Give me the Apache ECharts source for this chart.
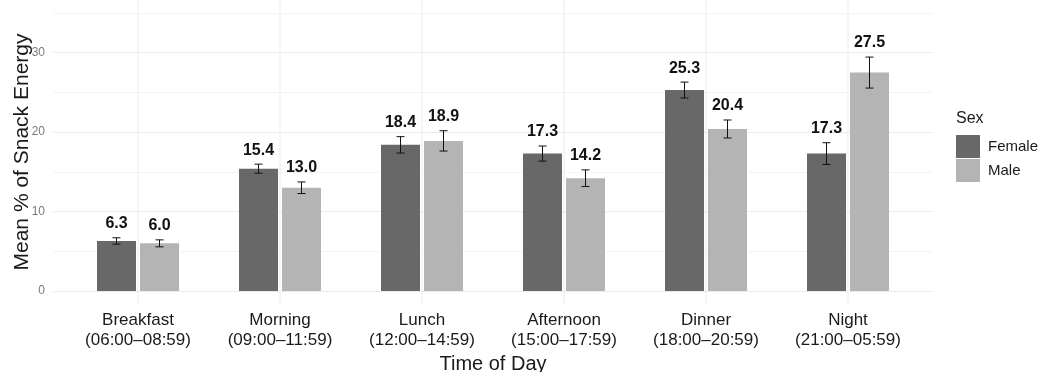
<!DOCTYPE html>
<html>
<head>
<meta charset="utf-8">
<script src="https://cdn.jsdelivr.net/npm/echarts@6/dist/echarts.min.js"></script>
<style>
  html, body { margin: 0; padding: 0; background: #ffffff; }
  #chart { width: 1042px; height: 372px; }
</style>
</head>
<body>
<div id="chart"></div>
<script>
// Snack energy share by time of day, split by sex (mean ± SE)
const categories = [
  'Breakfast\n(06:00–08:59)',
  'Morning\n(09:00–11:59)',
  'Lunch\n(12:00–14:59)',
  'Afternoon\n(15:00–17:59)',
  'Dinner\n(18:00–20:59)',
  'Night\n(21:00–05:59)'
];
const femaleMean = [6.3, 15.4, 18.4, 17.3, 25.3, 17.3];
const maleMean   = [6.0, 13.0, 18.9, 14.2, 20.4, 27.5];
const femaleSE   = [0.40, 0.57, 1.03, 0.95, 1.00, 1.37];
const maleSE     = [0.44, 0.73, 1.28, 1.05, 1.13, 1.95];
const yTickLabels = [0, 10, 20, 30];

const FONT = '"Liberation Sans", Arial, sans-serif';
const BAR_W = 39;
const BAR_GAP_PX = 4;
const DODGE = (BAR_W + BAR_GAP_PX) / 2;
const Y_MIN = 0, Y_MAX = 35;
const PANEL_LO = -1.75, PANEL_HI = 36.75; // padded panel range for vertical grid lines

const chart = echarts.init(document.getElementById('chart'), null, { renderer: 'canvas' });

function errorBarRenderer(sign) {
  return function (params, api) {
    const i = api.value(0), m = api.value(1), se = api.value(2);
    const top = api.coord([i, m + se]);
    const bot = api.coord([i, m - se]);
    const x = top[0] + sign * DODGE;
    const cap = 4;
    const stroke = { stroke: '#111', lineWidth: 1 };
    return {
      type: 'group',
      children: [
        { type: 'line', shape: { x1: x, y1: top[1], x2: x, y2: bot[1] }, style: stroke },
        { type: 'line', shape: { x1: x - cap, y1: top[1], x2: x + cap, y2: top[1] }, style: stroke },
        { type: 'line', shape: { x1: x - cap, y1: bot[1], x2: x + cap, y2: bot[1] }, style: stroke },
        {
          type: 'text', x: x, y: top[1] - 14,
          style: {
            text: m.toFixed(1), fill: '#111',
            font: 'bold 16px ' + FONT, align: 'center', verticalAlign: 'middle'
          }
        }
      ]
    };
  };
}

function vGridRenderer(params, api) {
  const i = api.value(0);
  const a = api.coord([i, PANEL_LO]);
  const b = api.coord([i, PANEL_HI]);
  return {
    type: 'line',
    shape: { x1: a[0], y1: a[1], x2: b[0], y2: b[1] },
    style: { stroke: '#ebebeb', lineWidth: 1 }
  };
}

const option = {
  backgroundColor: '#ffffff',
  animation: false,
  textStyle: { fontFamily: FONT },
  title: {
    text: 'Sex', left: 956, top: 111, padding: 0,
    textStyle: { fontSize: 16, fontWeight: 'normal', color: '#1a1a1a', fontFamily: FONT }
  },
  legend: {
    data: ['Female', 'Male'],
    orient: 'vertical', left: 956, top: 135, padding: 0,
    icon: 'rect', itemWidth: 24, itemHeight: 23, itemGap: 1,
    textStyle: { fontSize: 15, color: '#1a1a1a', fontFamily: FONT, padding: [0, 0, 0, 3] },
    selectedMode: false
  },
  grid: [
    // bars (category bands of equal width)
    { left: 67, right: 123, top: 13, bottom: 81, containLabel: false, outerBoundsMode: 'none' },
    // full panel for the horizontal grid and y axis
    { left: 53, right: 109, top: 13, bottom: 81, containLabel: false, outerBoundsMode: 'none' }
  ],
  xAxis: [
    {
      type: 'category', gridIndex: 0, data: categories,
      axisLine: { show: false }, axisTick: { show: false },
      splitLine: { show: false },
      axisLabel: { color: '#1a1a1a', fontSize: 17, lineHeight: 20, margin: 19, fontFamily: FONT },
      name: 'Time of Day', nameLocation: 'middle', nameGap: 57,
      nameTextStyle: { fontSize: 20, color: '#1a1a1a', fontFamily: FONT }
    },
    { type: 'value', gridIndex: 1, min: 0, max: 1, show: false }
  ],
  yAxis: [
    { type: 'value', gridIndex: 0, min: Y_MIN, max: Y_MAX, show: false },
    {
      type: 'value', gridIndex: 1, min: Y_MIN, max: Y_MAX, interval: 5,
      axisLine: { show: false }, axisTick: { show: false },
      axisLabel: {
        color: '#7a7a7a', fontSize: 12, margin: 8, fontFamily: FONT,
        formatter: v => (yTickLabels.indexOf(v) >= 0 ? String(v) : '')
      },
      splitLine: { show: true, lineStyle: { color: ['#ebebeb', '#f4f4f4'], width: 1 } },
      name: 'Mean % of Snack Energy', nameLocation: 'middle', nameGap: 20,
      nameMoveOverlap: false,
      nameTextStyle: { fontSize: 21, color: '#1a1a1a', fontFamily: FONT }
    }
  ],
  series: [
    {
      type: 'custom', name: 'vgrid', xAxisIndex: 0, yAxisIndex: 0, silent: true, z: 1,
      renderItem: vGridRenderer,
      data: categories.map((c, i) => [i]),
      encode: { x: 0 }
    },
    {
      type: 'bar', name: 'Female', xAxisIndex: 0, yAxisIndex: 0, z: 2,
      data: femaleMean, barWidth: BAR_W, barGap: (BAR_GAP_PX / BAR_W * 100) + '%',
      itemStyle: { color: '#686868' }, silent: true
    },
    {
      type: 'bar', name: 'Male', xAxisIndex: 0, yAxisIndex: 0, z: 2,
      data: maleMean, barWidth: BAR_W, barGap: (BAR_GAP_PX / BAR_W * 100) + '%',
      itemStyle: { color: '#b4b4b4' }, silent: true
    },
    {
      type: 'custom', name: 'femaleErr', xAxisIndex: 0, yAxisIndex: 0, z: 3, silent: true,
      renderItem: errorBarRenderer(-1),
      data: femaleMean.map((m, i) => [i, m, femaleSE[i]]),
      encode: { x: 0, y: 1 }
    },
    {
      type: 'custom', name: 'maleErr', xAxisIndex: 0, yAxisIndex: 0, z: 3, silent: true,
      renderItem: errorBarRenderer(1),
      data: maleMean.map((m, i) => [i, m, maleSE[i]]),
      encode: { x: 0, y: 1 }
    }
  ]
};

chart.setOption(option);
</script>
</body>
</html>
